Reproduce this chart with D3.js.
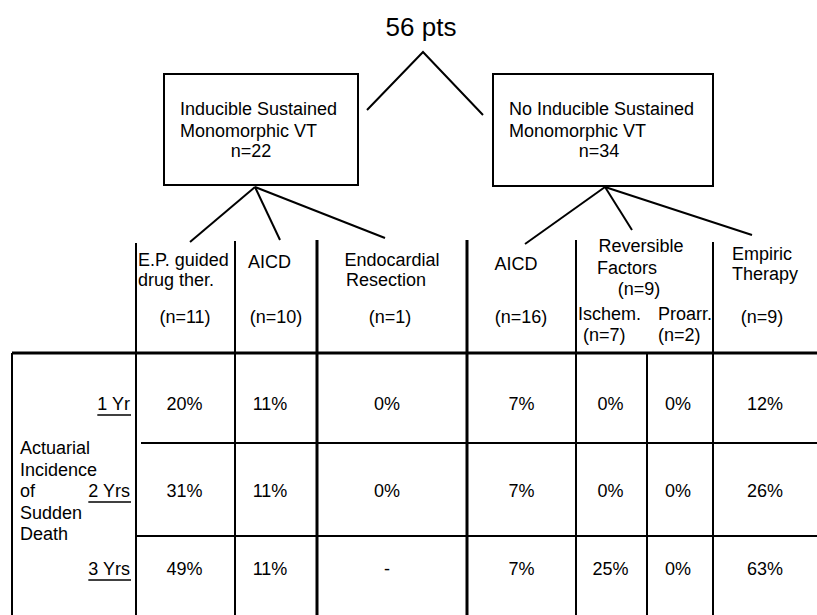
<!DOCTYPE html>
<html>
<head>
<meta charset="utf-8">
<script src="https://cdn.jsdelivr.net/npm/d3@7/dist/d3.min.js"></script>
<style>
  html, body { margin: 0; padding: 0; background: #fff; }
  svg { display: block; }
  text { font-family: "Liberation Sans", Arial, Helvetica, sans-serif; fill: #000; }
</style>
</head>
<body>
<svg id="chart" width="817" height="615"></svg>
<script>
// ---------------- DATA ----------------
const rootLabel = "56 pts";
const groups = ["Inducible Sustained|Monomorphic VT", "No Inducible Sustained|Monomorphic VT"];
const groupN = [22, 34];

const columnIds = ["ep", "aicd1", "endo", "aicd2", "ischem", "proarr", "empiric"];
const years = ["1 Yr", "2 Yrs", "3 Yrs"];

const epGuided      = [20, 31, 49];
const aicdInducible = [11, 11, 11];
const endocardial   = [0, 0, null];
const aicdNonInduc  = [7, 7, 7];
const ischemic      = [0, 0, 25];
const proarrhythmic = [0, 0, 0];
const empiric       = [12, 26, 63];

const rowTitle = ["Actuarial", "Incidence", "of", "Sudden", "Death"];

// ---------------- LAYOUT ----------------
const svg = d3.select("#chart");
const FS = 18;
const bounds = [136, 235, 317, 467, 576, 647, 713, 817];
const series = [epGuided, aicdInducible, endocardial, aicdNonInduc, ischemic, proarrhythmic, empiric];
const nudge = [-1, -6, -5, 0, -1, -2, 0];

const xCol = d3.scaleOrdinal().domain(columnIds)
  .range(columnIds.map((d, i) => (bounds[i] + bounds[i + 1]) / 2 + nudge[i]));
const yRow = d3.scaleOrdinal().domain(years).range([410, 497, 575]);
const fmt = v => v == null ? "-" : d3.format("d")(v) + "%";

const g = svg.append("g");

// multi-line text helper (one text element, tspans)
function multi(lines, x, y, dy, anchor, xs) {
  const t = g.append("text").attr("font-size", FS).attr("text-anchor", anchor || "start");
  lines.forEach((s, k) => {
    t.append("tspan").attr("x", xs ? xs[k] : x).attr("y", y + k * dy).text(s);
  });
  return t;
}

// title + first split
g.append("text").attr("x", 421).attr("y", 36).attr("text-anchor", "middle")
  .attr("font-size", 26).text(rootLabel);
g.append("path").attr("d", "M367,110 L423,52 L483,115")
  .attr("fill", "none").attr("stroke", "#000").attr("stroke-width", 2);

// group boxes
const boxes = [{x0: 164, y0: 74, x1: 358, y1: 185, tx: 180, nx: 251}, {x0: 493, y0: 74, x1: 713, y1: 186, tx: 509, nx: 599}];
groups.forEach((lbl, i) => {
  const b = boxes[i];
  g.append("rect").attr("x", b.x0).attr("y", b.y0).attr("width", b.x1 - b.x0).attr("height", b.y1 - b.y0)
    .attr("fill", "none").attr("stroke", "#000").attr("stroke-width", 2);
  multi(lbl.split("|"), b.tx, 115, 22);
  g.append("text").attr("x", b.nx).attr("y", 157)
    .attr("text-anchor", "middle").attr("font-size", FS).text("n=" + groupN[i]);
});

// branches from boxes to columns
const apex = [[255, 187], [605, 187]];
const branchEnds = [[190, 242], [280, 240], [385, 238], [525, 244], [632, 230], [752, 235]];
const branchGroup = [0, 0, 0, 1, 1, 1];
branchEnds.forEach((e, i) => {
  const a = apex[branchGroup[i]];
  g.append("line").attr("x1", a[0]).attr("y1", a[1]).attr("x2", e[0]).attr("y2", e[1])
    .attr("stroke", "#000").attr("stroke-width", 2);
});

// ---- grid lines ----
const line = (x1, y1, x2, y2, w) => g.append("line").attr("x1", x1).attr("y1", y1).attr("x2", x2).attr("y2", y2)
  .attr("stroke", "#000").attr("stroke-width", w);
line(136, 243, 136, 615, 2);
line(235, 241, 235, 615, 2);
line(317, 240, 317, 615, 3);
line(467, 240, 467, 615, 3);
line(576, 240, 576, 615, 2);
line(647, 353, 647, 615, 2);
line(713, 242, 713, 615, 2);
line(12, 353, 817, 353, 3);
line(12, 353, 12, 615, 2);
line(141, 443, 817, 443, 2);
line(136, 536, 817, 536, 2);

// ---- column headers ----
const hdr = (t, x, y, anchor) => g.append("text").attr("x", x).attr("y", y)
  .attr("text-anchor", anchor || "start").attr("font-size", FS).text(t);
multi(["E.P. guided", "drug ther."], 138, 266, 20);
hdr("(n=11)", 185, 323, "middle");
hdr("AICD", 248, 268);
hdr("(n=10)", 276, 323, "middle");
multi(["Endocardial", "Resection"], 0, 266, 20, "middle", [392, 386]);
hdr("(n=1)", 390, 323, "middle");
hdr("AICD", 516, 270, "middle");
hdr("(n=16)", 521, 323, "middle");
multi(["Reversible", "Factors", "(n=9)"], 0, 252, 21.5, "middle", [641, 627, 639]);
hdr("Ischem.", 578, 320);
hdr("Proarr.", 658, 320);
hdr("(n=7)", 583, 341);
hdr("(n=2)", 658, 341);
multi(["Empiric", "Therapy"], 732, 260, 20);
hdr("(n=9)", 762, 323, "middle");

// ---- row labels ----
years.forEach(y => {
  const t = g.append("text").attr("x", 130).attr("y", yRow(y)).attr("text-anchor", "end")
    .attr("font-size", FS).text(y);
  const w = t.node().getComputedTextLength();
  line(130 - w, yRow(y) + 5, 131, yRow(y) + 5, 1.5);
});
multi(rowTitle, 20, 454, 21.5);

// ---- cells ----
columnIds.forEach((c, ci) => {
  g.selectAll(null).data(series[ci]).enter().append("text")
    .attr("x", xCol(c)).attr("y", (d, ri) => yRow(years[ri]))
    .attr("text-anchor", "middle").attr("font-size", FS).text(fmt);
});
</script>
</body>
</html>
